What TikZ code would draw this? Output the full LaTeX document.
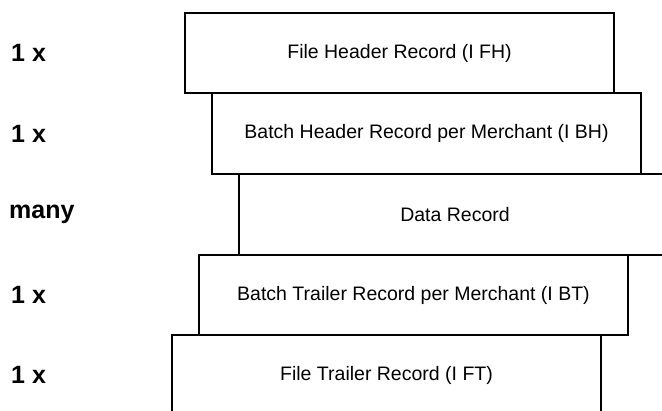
\documentclass[tikz,border=0pt]{standalone}
\usepackage{fontspec}
\setmainfont{Liberation Sans}
\newfontfamily\arialfont{Liberation Sans}
\begin{document}
\begin{tikzpicture}[x=1pt,y=-1pt,
  recbox/.style={draw, line width=2.8pt, inner sep=0pt, font=\arialfont\fontsize{19.5}{22}\selectfont},
  mult/.style={anchor=west, inner sep=0pt, font=\arialfont\bfseries\fontsize{25}{28}\selectfont}]
\useasboundingbox (0,0) rectangle (662,411);
\clip (0,0) rectangle (662,411);
\node[recbox, minimum width=429pt, minimum height=80pt] (fh) at (399.5,53) {File Header Record (I FH)};
\node[recbox, minimum width=429pt, minimum height=81pt] (bh) at (426.5,133.5) {Batch Header Record per Merchant (I BH)};
\node[recbox, minimum width=432pt, minimum height=81pt] (dr) at (455,214.5) {Data Record};
\node[recbox, minimum width=429pt, minimum height=80pt] (bt) at (413.5,295) {Batch Trailer Record per Merchant (I BT)};
\node[recbox, minimum width=429pt, minimum height=80pt] (ft) at (386.5,375) {File Trailer Record (I FT)};
\node[mult] (m1) at (11,53) {1 x};
\node[mult] (m2) at (11,133.5) {1 x};
\node[mult] (m3) at (9,214.5) {many};
\node[mult] (m4) at (11,295) {1 x};
\node[mult] (m5) at (11,375) {1 x};
\end{tikzpicture}
\end{document}
